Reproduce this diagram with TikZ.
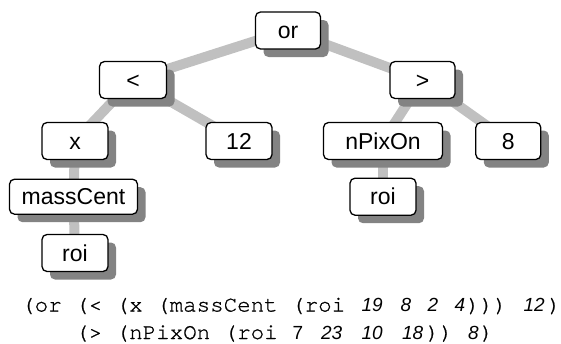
\documentclass[tikz,border=0pt]{standalone}
\usepackage{fontspec}
\setmainfont{Liberation Sans}
\newfontfamily\codefont[FakeBold=0.9]{texgyrecursor-regular.otf}
\newfontfamily\digfont{Liberation Sans}
\usetikzlibrary{shadows,backgrounds}
\definecolor{edgegray}{HTML}{C0C0C0}
\definecolor{shadegray}{HTML}{838383}
\newlength\cw
\setlength\cw{13.5pt}
\newcommand\nm[2]{\makebox[#1\cw][c]{\digfont\fontsize{19}{19}\selectfont\itshape #2}}
\newcommand\nmu[2]{\makebox[#1\cw][c]{\digfont\fontsize{19}{19}\selectfont #2}}
\begin{document}
\begin{tikzpicture}[x=1pt,y=-1pt,
  tnode/.style={draw=black, line width=1.3pt, fill=white, rounded corners=5pt,
    minimum width=66pt, minimum height=37pt, inner sep=0pt,
    text height=16.5pt, text depth=0pt,
    font=\fontsize{23}{23}\selectfont,
    drop shadow={shadow xshift=8pt, shadow yshift=-8pt, fill=shadegray, opacity=1}},
  treeline/.style={draw=edgegray, line width=10pt},
  codeline/.style={anchor=base west, inner sep=0pt, font=\codefont\fontsize{22.5}{22.5}\selectfont}]
\useasboundingbox (0,0) rectangle (561,343);
\node[tnode, minimum width=65pt] (or) at (288,30.5) {or};
\node[tnode, minimum width=67pt] (lt) at (133,80) {<};
\node[tnode, minimum width=65pt] (gt) at (422.5,80) {>};
\node[tnode] (x) at (75,141) {x};
\node[tnode] (n12) at (239,141) {12};
\node[tnode, minimum width=128pt, minimum height=35pt] (mc) at (73.5,196.7) {massCent};
\node[tnode] (roiA) at (75,253) {roi};
\node[tnode, minimum width=119pt] (np) at (383,141) {nPixOn};
\node[tnode, minimum width=65pt] (n8) at (508.3,141) {8};
\node[tnode] (roiB) at (383,196.7) {roi};
\begin{scope}[on background layer]
\draw[treeline] (or.center) -- (lt.center);
\draw[treeline] (or.center) -- (gt.center);
\draw[treeline] (lt.center) -- (x.center);
\draw[treeline] (lt.center) -- (n12.center);
\draw[treeline] (x.center) -- (mc.center);
\draw[treeline] (mc.center) -- (roiA.center);
\draw[treeline] (gt.center) -- (np.center);
\draw[treeline] (gt.center) -- (n8.center);
\draw[treeline] (np.center) -- (roiB.center);
\end{scope}
\node[codeline] (lineA) at (21,311.5) {(or (< (x (massCent (roi \nm{2}{19} \nm{1}{8} \nm{1}{2} \nm{1}{4}))) \nm{2}{12})};
\node[codeline] (lineB) at (75,339) {(> (nPixOn (roi \nmu{1}{7} \nm{2}{23} \nm{2}{10} \nm{2}{18})) \nm{1}{8})};
\end{tikzpicture}
\end{document}
